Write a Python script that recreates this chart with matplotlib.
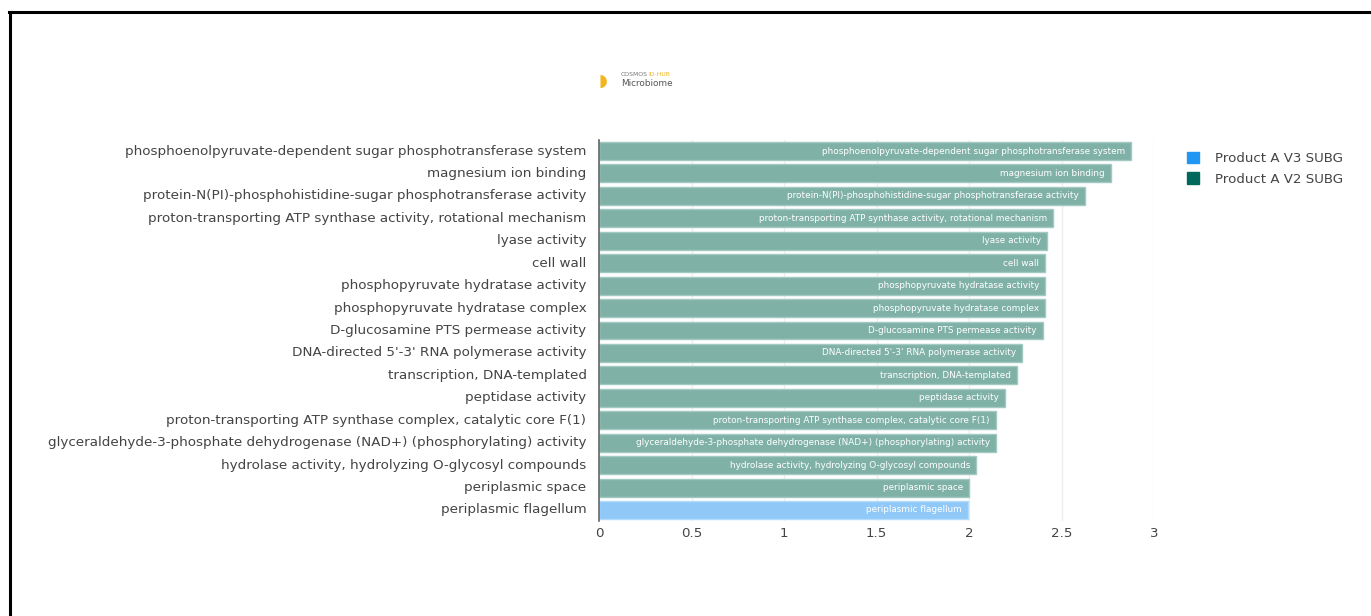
import matplotlib.pyplot as plt
from matplotlib.lines import Line2D
from matplotlib.patches import Patch

# categories, top to bottom
categories = [
    "phosphoenolpyruvate-dependent sugar phosphotransferase system",
    "magnesium ion binding",
    "protein-N(PI)-phosphohistidine-sugar phosphotransferase activity",
    "proton-transporting ATP synthase activity, rotational mechanism",
    "lyase activity",
    "cell wall",
    "phosphopyruvate hydratase activity",
    "phosphopyruvate hydratase complex",
    "D-glucosamine PTS permease activity",
    "DNA-directed 5'-3' RNA polymerase activity",
    "transcription, DNA-templated",
    "peptidase activity",
    "proton-transporting ATP synthase complex, catalytic core F(1)",
    "glyceraldehyde-3-phosphate dehydrogenase (NAD+) (phosphorylating) activity",
    "hydrolase activity, hydrolyzing O-glycosyl compounds",
    "periplasmic space",
    "periplasmic flagellum",
]
values = [2.876, 2.768, 2.627, 2.454, 2.422, 2.411, 2.411, 2.411, 2.400,
          2.286, 2.259, 2.195, 2.146, 2.146, 2.038, 2.0, 1.995]
groups = ["V2"] * 16 + ["V3"]
x_ticks = [0, 0.5, 1, 1.5, 2, 2.5, 3]
x_tick_labels = ["0", "0.5", "1", "1.5", "2", "2.5", "3"]
legend_names = ["Product A V3 SUBG", "Product A V2 SUBG"]

face = {"V2": "#7fb1a6", "V3": "#90c9f8"}
edge = {"V2": "#a3cac2", "V3": "#b4dbfb"}
legend_colors = ["#2196f3", "#00695c"]

W, H = 1371, 616
fig = plt.figure(figsize=(W / 100, H / 100), dpi=100)
fig.patch.set_facecolor("white")

top, bottom = 139.8, 521.2
ax = fig.add_axes([599 / W, 1 - bottom / H, 555 / W, (bottom - top) / H])

ypos = list(range(len(categories)))
for y, v, g in zip(ypos, values, groups):
    ax.barh(y, v, height=0.8, color=face[g], edgecolor=edge[g], linewidth=1, zorder=2)
    ax.text(v - 0.033, y, categories[y], ha="right", va="center", color="white",
            fontsize=6.4, zorder=3)

ax.set_ylim(len(categories) - 0.5, -0.5)
ax.set_xlim(0, 3)
ax.set_yticks(ypos)
ax.set_yticklabels(categories, fontsize=9.7, color="#444444", va="center")
ax.set_xticks(x_ticks)
ax.set_xticklabels(x_tick_labels, fontsize=9.6, color="#444444")
ax.tick_params(axis="y", length=0, pad=9)
ax.tick_params(axis="x", length=0, pad=4)
ax.grid(axis="x", color="#eeeeee", linewidth=1, zorder=0)
ax.set_axisbelow(True)
for s in ["top", "right", "bottom"]:
    ax.spines[s].set_visible(False)
ax.spines["left"].set_color("#666666")
ax.spines["left"].set_linewidth(1.2)

# legend
handles = [Patch(facecolor=c, edgecolor=c) for c in legend_colors]
fig.legend(handles, legend_names, loc="upper left", bbox_to_anchor=(1175 / W, 1 - 140 / H),
           frameon=False, fontsize=9.6, labelcolor="#444444", handlelength=0.9,
           handleheight=0.9, handletextpad=1.2, labelspacing=0.55)

# logo
fig.text(599 / W, 1 - 81 / H, "◗", fontsize=12, color="#f2b51e", ha="left", va="center")
fig.text(621 / W, 1 - 75 / H, "COSMOS", fontsize=4.4, color="#777777", ha="left", va="center")
fig.text(648 / W, 1 - 75 / H, "ID-HUB", fontsize=4.4, color="#f2b51e", ha="left", va="center")
fig.text(621 / W, 1 - 84 / H, "Microbiome", fontsize=6.4, color="#555555", ha="left", va="center")

# frame
fig.add_artist(Line2D([9 / W, 1], [1 - 11.5 / H, 1 - 11.5 / H], color="black", linewidth=2.2,
                      transform=fig.transFigure))
fig.add_artist(Line2D([10 / W, 10 / W], [1 - 11.5 / H, 0], color="black", linewidth=2.2,
                      transform=fig.transFigure))

fig.savefig("out.png", dpi=100)
